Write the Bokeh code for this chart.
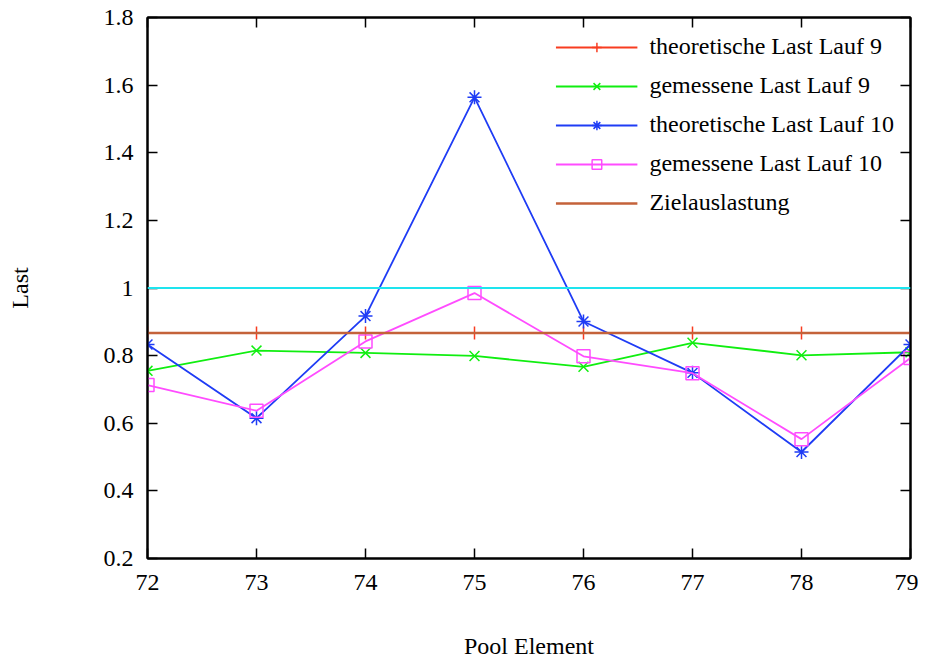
from bokeh.plotting import figure
from bokeh.models import (Legend, LegendItem, Span, LinearAxis, Range1d,
                          FixedTicker, CustomJSTickFormatter)
from bokeh.embed import file_html
from bokeh.resources import INLINE

# ---- data ----
pool_element = [72, 73, 74, 75, 76, 77, 78, 79]
theo_last_9 = [0.867, 0.867, 0.867, 0.867, 0.867, 0.867, 0.867, 0.867]
gem_last_9 = [0.755, 0.815, 0.808, 0.799, 0.767, 0.838, 0.801, 0.810]
theo_last_10 = [0.833, 0.615, 0.917, 1.564, 0.901, 0.749, 0.515, 0.833]
gem_last_10 = [0.713, 0.637, 0.842, 0.985, 0.798, 0.748, 0.553, 0.793]
ziel_last = [0.867, 0.867, 0.867, 0.867, 0.867, 0.867, 0.867, 0.867]
reference_level = 1.0
x_ticks = [72, 73, 74, 75, 76, 77, 78, 79]
y_ticks = [0.2, 0.4, 0.6, 0.8, 1.0, 1.2, 1.4, 1.6, 1.8]
labels = ["theoretische Last Lauf 9", "gemessene Last Lauf 9",
          "theoretische Last Lauf 10", "gemessene Last Lauf 10",
          "Zielauslastung"]

FONT = "Liberation Serif"
FS = "24px"

p = figure(width=918, height=661, output_backend="svg", toolbar_location=None,
           x_range=Range1d(72, 79), y_range=Range1d(0.2, 1.8),
           min_border_left=147, min_border_right=8, min_border_top=17,
           min_border_bottom=103)
p.grid.visible = False
p.outline_line_color = "black"
p.outline_line_width = 2
p.background_fill_color = "white"
p.border_fill_color = "white"

# axes
p.xaxis.ticker = FixedTicker(ticks=x_ticks)
p.yaxis.ticker = FixedTicker(ticks=y_ticks)
p.yaxis.formatter = CustomJSTickFormatter(code="return (Math.round(tick*10)/10).toString();")
for ax in [p.xaxis[0], p.yaxis[0]]:
    ax.major_tick_in = 10
    ax.major_tick_out = 0
    ax.minor_tick_line_color = None
    ax.axis_line_width = 2
    ax.major_tick_line_width = 1.5
    ax.major_label_text_font = FONT
    ax.major_label_text_font_size = FS
    ax.major_label_text_color = "black"
    ax.axis_label_text_font = FONT
    ax.axis_label_text_font_size = FS
    ax.axis_label_text_font_style = "normal"
    ax.axis_label_text_color = "black"
p.xaxis.axis_label = "Pool Element"
p.yaxis.axis_label = "Last"
p.xaxis.major_label_standoff = 16
p.xaxis.axis_label_standoff = 40
p.yaxis.major_label_standoff = 14
p.yaxis.axis_label_standoff = 68

# mirrored ticks
blank = CustomJSTickFormatter(code="return '';")
right_ax = LinearAxis(ticker=FixedTicker(ticks=y_ticks), formatter=blank,
                      major_tick_in=10, major_tick_out=0, minor_tick_line_color=None,
                      major_label_standoff=0, axis_line_width=2, major_tick_line_width=1.5,
                      major_label_text_font_size="1px")
top_ax = LinearAxis(ticker=FixedTicker(ticks=x_ticks), formatter=blank,
                    major_tick_in=10, major_tick_out=0, minor_tick_line_color=None,
                    major_label_standoff=0, axis_line_width=2, major_tick_line_width=1.5,
                    major_label_text_font_size="1px")
p.add_layout(right_ax, "right")
p.add_layout(top_ax, "above")

# reference line
p.add_layout(Span(location=reference_level, dimension="width",
                  line_color="#1ee4ee", line_width=2))

RED = "#f83c20"
GREEN = "#10ee10"
BLUE = "#1f3cf5"
MAG = "#ff4cff"
BROWN = "#c4623a"
LW = 1.8

l1 = p.line(pool_element, theo_last_9, line_color=RED, line_width=LW)
s1 = p.scatter(pool_element, theo_last_9, marker="cross", size=13,
               line_color=RED, line_width=1.5)
l2 = p.line(pool_element, gem_last_9, line_color=GREEN, line_width=LW)
s2 = p.scatter(pool_element, gem_last_9, marker="x", size=14,
               line_color=GREEN, line_width=1.5)
l3 = p.line(pool_element, theo_last_10, line_color=BLUE, line_width=LW)
s3 = p.scatter(pool_element, theo_last_10, marker="asterisk", size=14,
               line_color=BLUE, line_width=1.5)
l4 = p.line(pool_element, gem_last_10, line_color=MAG, line_width=LW)
s4 = p.scatter(pool_element, gem_last_10, marker="square", size=13,
               line_color=MAG, fill_alpha=0, line_width=1.5)
l5 = p.line(pool_element, ziel_last, line_color=BROWN, line_width=LW + 0.6)

legend = Legend(items=[
    LegendItem(label=labels[0], renderers=[l1, s1]),
    LegendItem(label=labels[1], renderers=[l2, s2]),
    LegendItem(label=labels[2], renderers=[l3, s3]),
    LegendItem(label=labels[3], renderers=[l4, s4]),
    LegendItem(label=labels[4], renderers=[l5]),
], location="top_right")
legend.border_line_color = None
legend.background_fill_alpha = 0
legend.label_text_font = FONT
legend.label_text_font_size = FS
legend.label_text_color = "black"
legend.glyph_width = 82
legend.glyph_height = 24
legend.label_height = 24
legend.spacing = 12
legend.padding = 10
legend.margin = 16
legend.label_standoff = 12
p.add_layout(legend)

open("out.html", "w").write(file_html(p, INLINE))
